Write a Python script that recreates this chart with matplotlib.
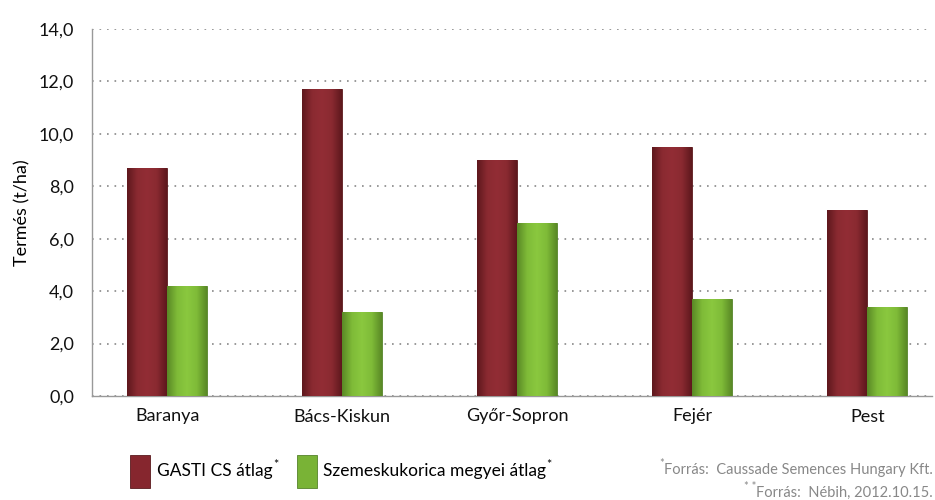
import matplotlib
matplotlib.use("Agg")
import matplotlib.pyplot as plt
from matplotlib.patches import Rectangle
from matplotlib.colors import LinearSegmentedColormap
from matplotlib.ticker import FuncFormatter
import numpy as np

categories = ["Baranya", "Bács-Kiskun", "Győr-Sopron", "Fejér", "Pest"]
gasti = [8.7, 11.7, 9.0, 9.5, 7.1]
megyei = [4.2, 3.2, 6.6, 3.7, 3.4]
yticks = [0, 2, 4, 6, 8, 10, 12, 14]

plt.rcParams['font.family'] = ['Lato', 'DejaVu Sans']

fig = plt.figure(figsize=(9.35, 5.0), dpi=100)
ax = fig.add_axes([92/935, 1-396/500, (932-92)/935, (396-29)/500])

red = "#86262e"
green = "#79b336"
red_cm = LinearSegmentedColormap.from_list("r", ["#5e181d", "#8a2a31", "#922d35", "#8a2a31", "#5e181d"])
green_cm = LinearSegmentedColormap.from_list("g", ["#5a8a26", "#7fbb38", "#8ac83f", "#7fbb38", "#5a8a26"])

x = np.arange(len(categories))
w = 0.228
b1 = ax.bar(x - w/2, gasti, width=w, color=red, edgecolor="#5a1a1e", linewidth=0.6, zorder=3)
b2 = ax.bar(x + w/2, megyei, width=w, color=green, edgecolor="#55822a", linewidth=0.6, zorder=3)

grad = np.linspace(0, 1, 64).reshape(1, -1)
for bars, cm in ((b1, red_cm), (b2, green_cm)):
    for p in bars:
        x0, y0 = p.get_x(), p.get_y()
        im = ax.imshow(grad, cmap=cm, aspect="auto", interpolation="bicubic",
                       extent=(x0, x0 + p.get_width(), y0, y0 + p.get_height()), zorder=3.5)
        im.set_clip_path(p)

ax.set_xlim(-0.43, 4.37)
ax.set_ylim(0, 14)
ax.set_yticks(yticks)
ax.yaxis.set_major_formatter(FuncFormatter(lambda v, p: f"{v:.1f}".replace(".", ",")))
ax.set_xticks(x)
ax.set_xticklabels(categories)
ax.tick_params(axis='both', length=0, labelsize=13, colors="#111111")
ax.tick_params(axis='x', pad=9)
ax.tick_params(axis='y', pad=13)
ax.yaxis.grid(True, linestyle=(0, (1, 3.5)), color="#888888", linewidth=1.2, zorder=0)
for s in ["top", "right"]:
    ax.spines[s].set_visible(False)
for s in ["left", "bottom"]:
    ax.spines[s].set_color("#999999")
    ax.spines[s].set_linewidth(1.0)
ax.set_ylabel("Termés (t/ha)", fontsize=13, labelpad=6)

# legend
fig.patches.append(Rectangle((130/935, 1-488/500), 20/935, 33/500, transform=fig.transFigure,
                             facecolor=red, edgecolor="#5a1a1e", linewidth=0.6))
fig.patches.append(Rectangle((297/935, 1-488/500), 20/935, 33/500, transform=fig.transFigure,
                             facecolor=green, edgecolor="#55822a", linewidth=0.6))
t1 = fig.text(157/935, 1-471/500, "GASTI CS átlag", fontsize=12.5, va="center", ha="left")
t2 = fig.text(323/935, 1-471/500, "Szemeskukorica megyei átlag", fontsize=12.5, va="center", ha="left")
for t in (t1, t2):
    fig.add_artist(plt.Annotation("*", xy=(1, 0.9), xycoords=t, xytext=(0.5, 0),
                                  textcoords="offset points", fontsize=9, ha="left", va="center"))

# footnotes
f1 = fig.text(933/935, 1-470/500, "Forrás:  Caussade Semences Hungary Kft.", fontsize=10.5,
              color="#888888", ha="right", va="center")
f2 = fig.text(933/935, 1-493/500, "Forrás:  Nébih, 2012.10.15.", fontsize=10.5,
              color="#888888", ha="right", va="center")
fig.add_artist(plt.Annotation("*", xy=(0, 0.95), xycoords=f1, xytext=(0, 0),
                              textcoords="offset points", fontsize=8, color="#888888",
                              ha="right", va="center"))
fig.add_artist(plt.Annotation("* *", xy=(0, 0.95), xycoords=f2, xytext=(0, 0),
                              textcoords="offset points", fontsize=8, color="#888888",
                              ha="right", va="center"))

fig.savefig("out.png", dpi=100)
